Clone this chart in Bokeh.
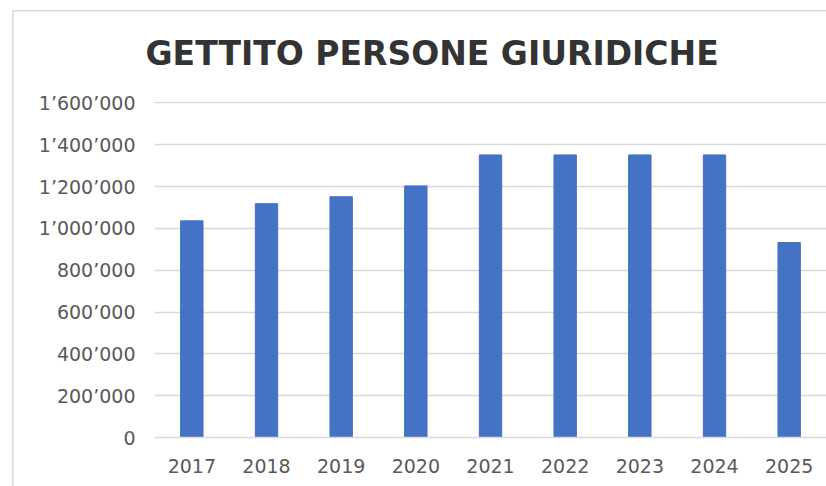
from bokeh.plotting import figure
from bokeh.models import Range1d, FactorRange, FixedTicker
from bokeh.embed import file_html
from bokeh.resources import INLINE

years = ["2017", "2018", "2019", "2020", "2021", "2022", "2023", "2024", "2025"]
gettito = [1036000, 1118000, 1151000, 1203000, 1351000, 1351000, 1351000, 1351000, 932000]
y_ticks = [0, 200000, 400000, 600000, 800000, 1000000, 1200000, 1400000, 1600000]
y_tick_labels = ["0", "200’000", "400’000", "600’000", "800’000",
                 "1’000’000", "1’200’000", "1’400’000", "1’600’000"]
title_text = "GETTITO PERSONE GIURIDICHE"

LABEL_FONT = "DejaVu Sans"
LABEL_COLOR = "#595959"
GRID = "#d9d9d9"

p = figure(x_range=FactorRange(factors=years),
           y_range=Range1d(0, y_ticks[-1] * 1.004),
           width=826, height=486, output_backend="svg", toolbar_location=None,
           min_border_left=154, min_border_right=0, min_border_top=101, min_border_bottom=49,
           title=title_text)
# light grey chart-area frame (top and left edges) drawn behind a transparent border area
p.styles = {
    "background-color": "white",
    "background-image": "linear-gradient(#d9d9d9, #d9d9d9), linear-gradient(#d9d9d9, #d9d9d9)",
    "background-size": "100% 1.5px, 1.5px 100%",
    "background-position": "12px 9.5px, 12px 9.5px",
    "background-repeat": "no-repeat",
}
p.outline_line_color = None
p.background_fill_color = "white"
p.border_fill_alpha = 0

p.title.align = "left"
p.title.offset = -9
p.title.standoff = 57
p.title.text_font = "DejaVu Sans"
p.title.text_font_style = "bold"
p.title.text_font_size = "33px"
p.title.text_color = "#333333"

p.vbar(x=years, top=gettito, width=0.3, fill_color="#4472C4", line_color="#4472C4")

p.yaxis.ticker = FixedTicker(ticks=y_ticks)
p.yaxis.major_label_overrides = {t: l for t, l in zip(y_ticks, y_tick_labels)}
p.yaxis.axis_line_color = None
p.yaxis.major_tick_line_color = None
p.yaxis.minor_tick_line_color = None
p.yaxis.major_label_standoff = 13
p.yaxis.major_label_text_font = LABEL_FONT
p.yaxis.major_label_text_font_size = "19px"
p.yaxis.major_label_text_color = LABEL_COLOR

p.xaxis.axis_line_color = GRID
p.xaxis.axis_line_width = 1.5
p.xaxis.major_tick_line_color = None
p.xaxis.minor_tick_line_color = None
p.xaxis.major_label_standoff = 15
p.xaxis.major_label_text_font = LABEL_FONT
p.xaxis.major_label_text_font_size = "19px"
p.xaxis.major_label_text_color = LABEL_COLOR

p.xgrid.grid_line_color = None
p.ygrid.grid_line_color = GRID
p.ygrid.grid_line_width = 1.5

open("out.html", "w").write(file_html(p, INLINE))
